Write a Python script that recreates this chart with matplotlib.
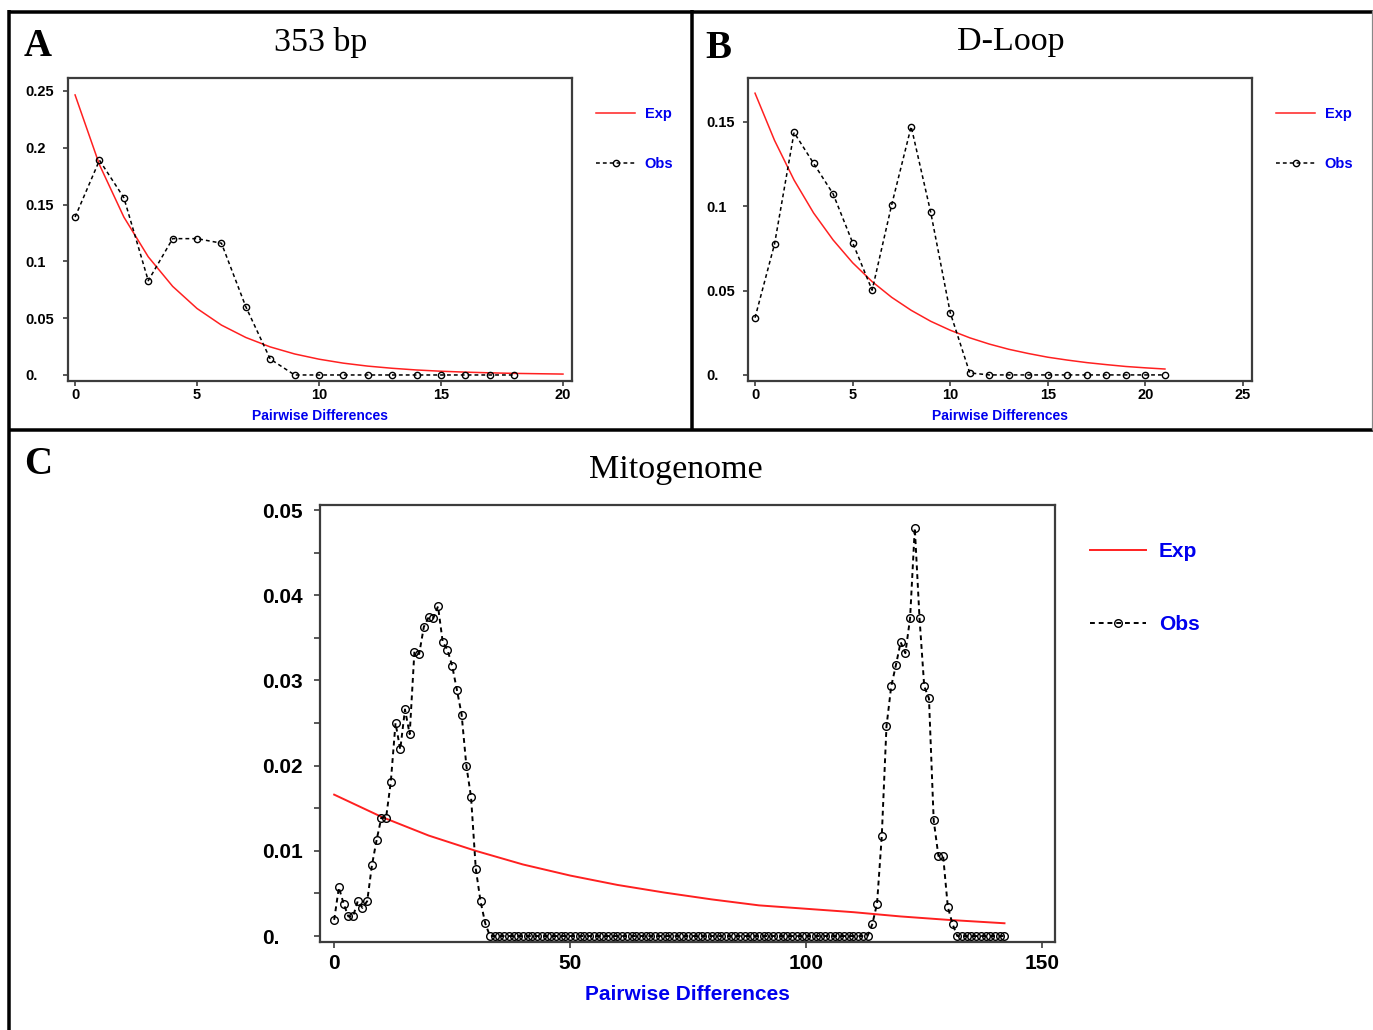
import matplotlib
matplotlib.use('Agg')
import matplotlib.pyplot as plt
from matplotlib.lines import Line2D

W, H = 1373, 1030

# ---------------- data ----------------
# Panel A: 353 bp
a_exp_x = list(range(0, 21))
a_exp = [0.2465, 0.185, 0.139, 0.104, 0.078, 0.0585, 0.0439, 0.033, 0.0247, 0.0185,
         0.0139, 0.0104, 0.0078, 0.0059, 0.0044, 0.0033, 0.0025, 0.0019, 0.0014,
         0.0011, 0.0008]
a_obs_x = list(range(0, 19))
a_obs = [0.139, 0.189, 0.156, 0.083, 0.120, 0.120, 0.116, 0.060, 0.014,
         0, 0, 0, 0, 0, 0, 0, 0, 0, 0]

# Panel B: D-Loop
b_exp_x = list(range(0, 22))
b_exp = [0.167, 0.139, 0.1155, 0.096, 0.080, 0.0665, 0.0553, 0.046, 0.0383, 0.0318,
         0.0265, 0.022, 0.0183, 0.0152, 0.0127, 0.0105, 0.0088, 0.0073, 0.0061,
         0.005, 0.0042, 0.0035]
b_obs_x = list(range(0, 22))
b_obs = [0.0339, 0.0776, 0.1437, 0.1254, 0.1073, 0.0784, 0.0502, 0.1008, 0.1472,
         0.0964, 0.0369, 0.0012, 0, 0, 0, 0, 0, 0, 0, 0, 0, 0]

# Panel C: Mitogenome
c_exp_x = [0, 10, 20, 30, 40, 50, 60, 70, 80, 90, 100, 110, 120, 130, 142]
c_exp = [0.0166, 0.0140, 0.0118, 0.0100, 0.0084, 0.0071, 0.0060, 0.0051, 0.0043,
         0.0036, 0.0032, 0.0028, 0.0023, 0.0019, 0.0015]
c_obs_left = [0.0019, 0.0057, 0.0038, 0.0023, 0.0023, 0.0041, 0.0033, 0.0041, 0.0083,
              0.0113, 0.0139, 0.0139, 0.0181, 0.0250, 0.0219, 0.0266, 0.0237, 0.0334,
              0.0331, 0.0363, 0.0374, 0.0373, 0.0387, 0.0345, 0.0336, 0.0317, 0.0289,
              0.0260, 0.0200, 0.0163, 0.0079, 0.0041, 0.0015]          # x = 0..32
c_obs_gap = [0] * 81                                                    # x = 33..113
c_obs_right = [0.0014, 0.0038, 0.0117, 0.0246, 0.0293, 0.0318, 0.0345, 0.0332,
               0.0373, 0.0479, 0.0373, 0.0293, 0.0279, 0.0136, 0.0094, 0.0094,
               0.0034, 0.0014]                                          # x = 114..131
c_obs_tail = [0] * 11                                                   # x = 132..142
c_obs = c_obs_left + c_obs_gap + c_obs_right + c_obs_tail
c_obs_x = list(range(0, len(c_obs)))

a_yticks = [0, 0.05, 0.1, 0.15, 0.2, 0.25]
a_yticklabels = ['0.', '0.05', '0.1', '0.15', '0.2', '0.25']
b_yticks = [0, 0.05, 0.1, 0.15]
b_yticklabels = ['0.', '0.05', '0.1', '0.15']
c_yticks = [0, 0.01, 0.02, 0.03, 0.04, 0.05]
c_yticklabels = ['0.', '0.01', '0.02', '0.03', '0.04', '0.05']

# ---------------- figure ----------------
fig = plt.figure(figsize=(W / 100, H / 100), dpi=100)
fig.patch.set_facecolor('white')

SANS = ['Liberation Sans', 'DejaVu Sans']
SERIF = ['Liberation Serif', 'DejaVu Serif']
BLUE = '#0000ee'
RED = '#ff2020'
SPINE = '#3c3c3c'


def px_axes(l, t, r, b):
    return fig.add_axes([l / W, 1 - b / H, (r - l) / W, (b - t) / H])


def px2pt(p):
    return p * 72 / 100


def style(ax, xlim, ylim, xticks, yticks, yticklabels, fs, ypad_px, ticklen_px,
          xlabel, xlfs, xlpad, xpad_px):
    ax.set_xlim(*xlim)
    ax.set_ylim(*ylim)
    for s in ax.spines.values():
        s.set_color(SPINE)
        s.set_linewidth(1.6)
    ax.set_xticks(xticks)
    ax.set_xticklabels([str(t) for t in xticks], fontfamily=SANS, fontweight='bold',
                       fontsize=fs)
    ax.set_yticks(yticks)
    ax.set_yticklabels(yticklabels, fontfamily=SANS, fontweight='bold', fontsize=fs)
    for lab in ax.get_yticklabels():
        lab.set_horizontalalignment('left')
    ax.tick_params(axis='both', direction='out', length=px2pt(ticklen_px),
                   width=1.2, color=SPINE)
    ax.tick_params(axis='y', pad=px2pt(ypad_px))
    ax.tick_params(axis='x', pad=px2pt(xpad_px))
    ax.set_xlabel(xlabel, color=BLUE, fontfamily=SANS, fontweight='bold',
                  fontsize=xlfs, labelpad=xlpad)


def draw_series(ax, ex, ey, ox, oy, lw, ms):
    ax.plot(ex, ey, color=RED, lw=lw, label='Exp', zorder=2)
    ax.plot(ox, oy, color='black', lw=lw, ls=(0, (2.5, 2.0)), marker='o',
            mfc='none', mec='black', ms=ms, mew=1.0, label='Obs', zorder=3)


def legend(ax, x_px, y_px, fs, handlelen, textpad, spacing):
    h, l = ax.get_legend_handles_labels()
    leg = ax.legend(h, l, loc='upper left', bbox_to_anchor=(x_px / W, 1 - y_px / H),
                    bbox_transform=fig.transFigure, frameon=False, numpoints=1,
                    handlelength=handlelen, handletextpad=textpad,
                    labelspacing=spacing, borderpad=0, borderaxespad=0,
                    prop={'family': SANS, 'weight': 'bold', 'size': fs})
    for t in leg.get_texts():
        t.set_color(BLUE)


# Panel A
axA = px_axes(68, 78, 572, 381)
draw_series(axA, a_exp_x, a_exp, a_obs_x, a_obs, 1.1, 4.5)
style(axA, (-0.29, 20.37), (-0.0053, 0.2614), [0, 5, 10, 15, 20], a_yticks,
      a_yticklabels, 10.5, 38, 5, 'Pairwise Differences', 10, 5, 2)
legend(axA, 596, 107, 10.5, 2.7, 0.65, 2.5)

# Panel B
axB = px_axes(748, 78, 1252, 381)
draw_series(axB, b_exp_x, b_exp, b_obs_x, b_obs, 1.1, 4.5)
style(axB, (-0.36, 25.46), (-0.0036, 0.176), [0, 5, 10, 15, 20, 25], b_yticks,
      b_yticklabels, 10.5, 37, 5, 'Pairwise Differences', 10, 5, 2)
legend(axB, 1276, 107, 10.5, 2.7, 0.65, 2.5)

# Panel C
axC = px_axes(320, 505, 1055, 942)
draw_series(axC, c_exp_x, c_exp, c_obs_x, c_obs, 1.4, 5.5)
style(axC, (-3.0, 152.7), (-0.0007, 0.0506), [0, 50, 100, 150], c_yticks,
      c_yticklabels, 15, 52, 6, 'Pairwise Differences', 15, 9, 6)
axC.set_yticks([0.005, 0.015, 0.025, 0.035, 0.045], minor=True)
axC.tick_params(axis='y', which='minor', direction='out', length=px2pt(6),
                width=1.2, color=SPINE)
legend(axC, 1090, 542, 15, 2.7, 0.6, 2.6)

# Titles and panel letters
fig.text(321 / W, 1 - 42 / H, '353 bp', ha='center', va='center',
         fontfamily=SERIF, fontsize=24.5)
fig.text(1011 / W, 1 - 42 / H, 'D-Loop', ha='center', va='center',
         fontfamily=SERIF, fontsize=24.5)
fig.text(676 / W, 1 - 470 / H, 'Mitogenome', ha='center', va='center',
         fontfamily=SERIF, fontsize=24.5)
for letter, x, y in [('A', 24, 47), ('B', 705, 48), ('C', 24, 464)]:
    fig.text(x / W, 1 - y / H, letter, ha='left', va='center',
             fontfamily=SERIF, fontweight='bold', fontsize=28)

# Panel frame lines
def fline(x0, y0, x1, y1, lw_px, color='black'):
    fig.add_artist(Line2D([x0 / W, x1 / W], [1 - y0 / H, 1 - y1 / H],
                          transform=fig.transFigure, color=color,
                          lw=px2pt(lw_px), solid_capstyle='butt'))

fline(8, 11.5, 1373, 11.5, 3.5)
fline(8.5, 10, 8.5, 1030, 3.5)
fline(691.5, 10, 691.5, 431, 3.5)
fline(8, 429.5, 1373, 429.5, 3.5)
fline(1371.5, 10, 1371.5, 430, 1.2, '#888888')

fig.savefig('out.png', dpi=100, facecolor='white')
